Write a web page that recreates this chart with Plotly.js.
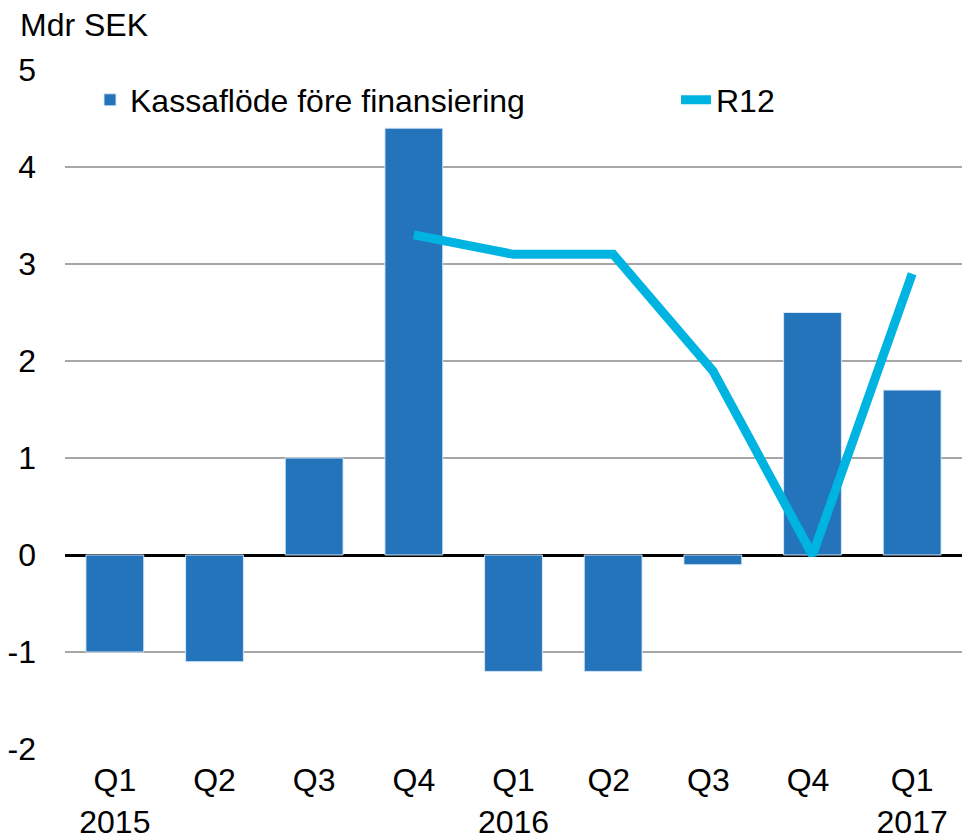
<!DOCTYPE html>
<html>
<head>
<meta charset="utf-8">
<script src="https://cdn.plot.ly/plotly-3.0.1.min.js"></script>
<style>html,body{margin:0;padding:0;background:#fff;}#chart{width:962px;height:840px;}</style>
</head>
<body>
<div id="chart"></div>
<script>
var categories = ["Q1<br>2015", "Q2", "Q3", "Q4", "Q1<br>2016", "Q2 ", "Q3 ", "Q4 ", "Q1<br>2017"];
var cashFlow = [-1.0, -1.1, 1.0, 4.4, -1.2, -1.2, -0.1, 2.5, 1.7];
var r12Categories = ["Q4", "Q1<br>2016", "Q2 ", "Q3 ", "Q4 ", "Q1<br>2017"];
var r12Values = [3.3, 3.1, 3.1, 1.9, 0.0, 2.9];
var yTicks = [-2, -1, 0, 1, 2, 3, 4, 5];

var font = "Liberation Sans, Arial, sans-serif";
var fs = 32;

var traces = [
  {
    type: "bar",
    name: "Kassaflöde före finansiering",
    x: categories,
    y: cashFlow,
    legend: "legend",
    marker: {color: "#2474BC", line: {color: "rgba(220,235,250,0.9)", width: 1}},
    hoverinfo: "skip"
  },
  {
    type: "scatter",
    mode: "lines",
    name: "R12",
    x: r12Categories,
    y: r12Values,
    legend: "legend2",
    line: {color: "#00B4E1", width: 9},
    hoverinfo: "skip"
  }
];

var legendCommon = {
  orientation: "h",
  xanchor: "left",
  yanchor: "middle",
  y: (749 - 100) / 679,
  bgcolor: "rgba(0,0,0,0)",
  font: {family: font, size: fs, color: "#000"}
};

var layout = {
  width: 962,
  height: 840,
  margin: {l: 65, r: 0, t: 70, b: 91},
  paper_bgcolor: "#fff",
  plot_bgcolor: "#fff",
  font: {family: font, size: fs, color: "#000"},
  showlegend: true,
  bargap: 0.42,
  legend: Object.assign({}, legendCommon, {x: (90 - 65) / 897}),
  legend2: Object.assign({}, legendCommon, {x: (676 - 65) / 897}),
  xaxis: {
    type: "category",
    categoryorder: "array",
    categoryarray: categories,
    showgrid: false,
    showline: false,
    ticks: "",
    ticklabelstandoff: 9,
    tickfont: {family: font, size: fs, color: "#000"},
    fixedrange: true
  },
  yaxis: {
    range: [-2, 5],
    tickvals: yTicks,
    ticktext: yTicks.map(String),
    showgrid: true,
    gridcolor: "#A6A6A6",
    gridwidth: 2,
    zeroline: true,
    zerolinecolor: "#000",
    zerolinewidth: 3,
    showline: false,
    ticks: "",
    ticklabelstandoff: 28,
    tickfont: {family: font, size: fs, color: "#000"},
    fixedrange: true
  },
  annotations: [
    {
      text: "Mdr SEK",
      xref: "paper", yref: "paper",
      x: -47 / 897, y: 1 + 45 / 679,
      xanchor: "left", yanchor: "middle",
      showarrow: false,
      font: {family: font, size: fs, color: "#000"}
    }
  ]
};

Plotly.newPlot("chart", traces, layout, {displayModeBar: false, staticPlot: true});
</script>
</body>
</html>
